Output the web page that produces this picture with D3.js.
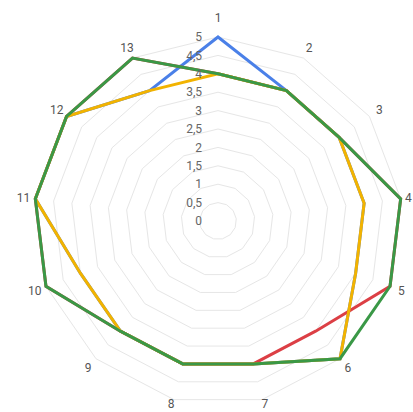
<!DOCTYPE html>
<html>
<head>
<meta charset="utf-8">
<script src="https://cdn.jsdelivr.net/npm/d3@7/dist/d3.min.js"></script>
<style>
  html, body { margin: 0; padding: 0; background: #fff; }
  svg { display: block; font-family: Roboto, Arial, sans-serif; }
</style>
</head>
<body>
<svg id="chart" width="413" height="412"></svg>
<script>
// Axes of the radar (13 criteria)
const categories = ["1","2","3","4","5","6","7","8","9","10","11","12","13"];

// Series values, one per axis
const seriesBlue   = [5,4,4,4,4,5,4,4,4,4,5,5,4];
const seriesRed    = [4,4,4,5,5,4,4,4,4,5,5,5,5];
const seriesYellow = [4,4,4,4,4,5,4,4,4,4,5,5,4];
const seriesGreen  = [4,4,4,5,5,5,4,4,4,5,5,5,5];

// Radial tick values and their labels
const tickValues = [0,0.5,1,1.5,2,2.5,3,3.5,4,4.5,5];
const tickLabels = ["0","0,5","1","1,5","2","2,5","3","3,5","4","4,5","5"];

const series = [
  { values: seriesBlue,   color: "#4a80e8" },
  { values: seriesRed,    color: "#dc3f45" },
  { values: seriesYellow, color: "#f2b300" },
  { values: seriesGreen,  color: "#3a9846" }
];

const W = 413, H = 412;
const svg = d3.select("#chart");
const cx = 218, cy = 221, R = 184;

const r = d3.scaleLinear().domain([0, 5]).range([0, R]);
const angle = d3.scalePoint().domain(categories).range([0, 2 * Math.PI * (categories.length - 1) / categories.length]);

const pt = (cat, v) => {
  const a = angle(cat);
  return [cx + r(v) * Math.sin(a), cy - r(v) * Math.cos(a)];
};

// Polygon grid rings
const g = svg.append("g");
g.selectAll("polygon.ring")
  .data(tickValues.filter(v => v > 0))
  .join("polygon")
  .attr("class", "ring")
  .attr("points", v => categories.map(c => pt(c, v).join(",")).join(" "))
  .attr("fill", "none")
  .attr("stroke", "#e6e6e6")
  .attr("stroke-width", 1);

// Series lines (closed)
const line = d3.line().curve(d3.curveLinearClosed);
svg.append("g").selectAll("path.series")
  .data(series)
  .join("path")
  .attr("class", "series")
  .attr("d", s => line(categories.map((c, i) => pt(c, s.values[i]))))
  .attr("fill", "none")
  .attr("stroke", s => s.color)
  .attr("stroke-width", 3)
  .attr("stroke-linejoin", "miter");

// Radial tick labels along the top axis
svg.append("g").selectAll("text.tick")
  .data(tickValues)
  .join("text")
  .attr("class", "tick")
  .attr("x", cx - 16)
  .attr("y", v => cy - r(v))
  .attr("dy", "0.35em")
  .attr("text-anchor", "end")
  .attr("font-size", 12)
  .attr("fill", "#666")
  .text((v, i) => tickLabels[i]);

// Axis labels around the outside, kept inside the drawing area
const labelR = R + 12;
const labels = svg.append("g").selectAll("text.axis")
  .data(categories)
  .join("text")
  .attr("class", "axis")
  .attr("x", c => cx + labelR * Math.sin(angle(c)))
  .attr("y", c => cy - (labelR + (angle(c) === 0 ? 7 : 0)) * Math.cos(angle(c)))
  .attr("dy", "0.35em")
  .attr("text-anchor", "middle")
  .attr("font-size", 12)
  .attr("fill", "#555")
  .text(c => c);

labels.each(function() {
  const t = d3.select(this);
  const b = this.getBBox();
  let dx = 0, dy = 0;
  if (b.x + b.width > W - 1) dx = (W - 1) - (b.x + b.width);
  if (b.x < 1) dx = 1 - b.x;
  if (b.y + b.height > H - 1) dy = (H - 1) - (b.y + b.height);
  if (b.y < 1) dy = 1 - b.y;
  t.attr("x", +t.attr("x") + dx).attr("y", +t.attr("y") + dy);
});
</script>
</body>
</html>
